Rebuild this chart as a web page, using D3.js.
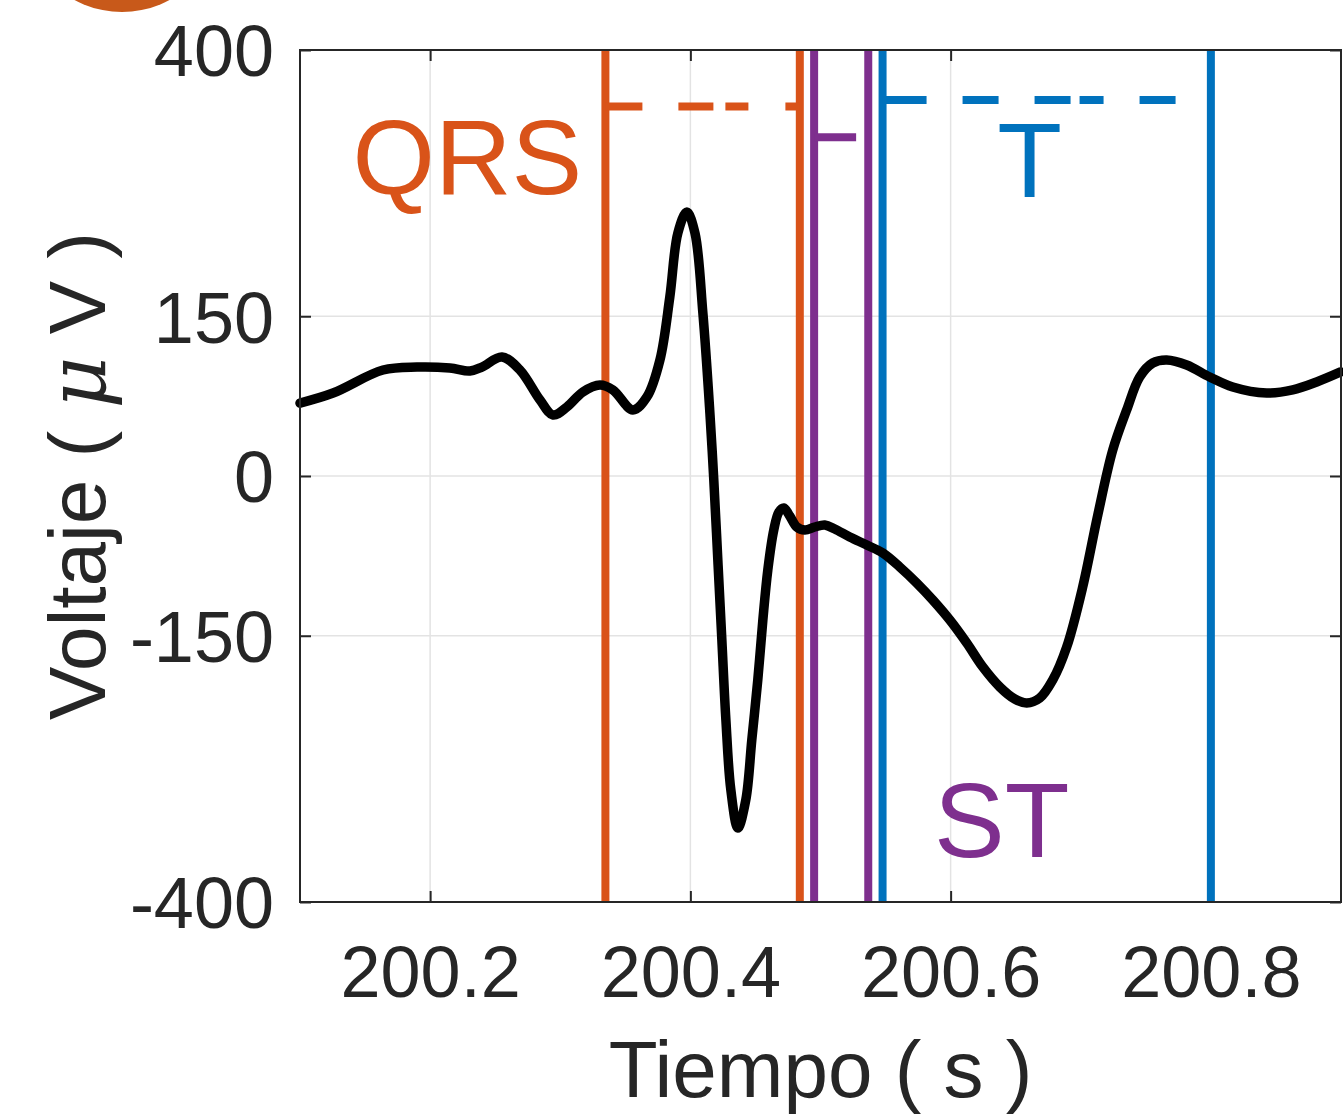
<!DOCTYPE html>
<html>
<head>
<meta charset="utf-8">
<script src="https://cdn.jsdelivr.net/npm/d3@7"></script>
<style>
  body { margin: 0; background: #fff; }
  svg { display: block; font-family: "Liberation Sans", Arial, sans-serif; }
</style>
</head>
<body>
<div id="chart"></div>
<script>
// ECG trace (time in s, voltage in µV)
const time = [
  200.1000, 200.1254, 200.1638, 200.1899, 200.2152, 200.2306, 200.2398, 200.2552,
  200.2690, 200.2844, 200.2944, 200.3051, 200.3174, 200.3305, 200.3405, 200.3558,
  200.3666, 200.3766, 200.3842, 200.3904, 200.3973, 200.4035, 200.4096, 200.4150,
  200.4180, 200.4211, 200.4242, 200.4273, 200.4311, 200.4365, 200.4426, 200.4472,
  200.4518, 200.4557, 200.4595, 200.4641, 200.4680, 200.4718, 200.4764, 200.4818,
  200.4880, 200.4956, 200.5033, 200.5110, 200.5225, 200.5356, 200.5479, 200.5609,
  200.5740, 200.5863, 200.5994, 200.6124, 200.6247, 200.6378, 200.6493, 200.6585,
  200.6685, 200.6785, 200.6892, 200.7015, 200.7131, 200.7246, 200.7353, 200.7453,
  200.7553, 200.7661, 200.7814, 200.7991, 200.8168, 200.8429, 200.8629, 200.8813,
  200.8997
];
const voltage = [
  68.5, 77.9, 99.5, 102.3, 101.4, 98.6, 102.3, 111.7,
  99.5, 71.4, 57.3, 64.8, 78.9, 85.4, 80.8, 62.0,
  74.2, 108.9, 168.1, 228.2, 247.9, 228.2, 153.1, 59.2,
  -3.8, -78.9, -154.0, -229.1, -294.8, -330.5, -304.2, -247.9,
  -191.5, -135.2, -88.3, -50.7, -33.8, -30.0, -37.6, -47.9,
  -50.7, -47.9, -46.0, -49.8, -57.3, -64.8, -72.3, -85.4,
  -100.5, -116.4, -135.2, -156.8, -179.3, -198.1, -209.4, -213.1,
  -208.5, -191.5, -160.6, -104.2, -36.6, 24.4, 62.0, 93.0,
  106.1, 108.9, 104.2, 93.0, 83.6, 77.9, 80.8, 88.3,
  97.7
];

// segment markers
const segNames = ["QRS", "ST", "T"];
const segStart = [200.3347, 200.4951, 200.5477];
const segEnd = [200.4841, 200.5367, 200.8000];
const segLevel = [347, 318, 353];
const segColors = ["#D95319", "#7E2F8E", "#0072BD"];
const segDash = ["37,36,35,12,23,37,15,200", "42,200", "44,36,36,36,36,9,24,36,36,200"];
// label anchor (time, voltage)
const labelTime = [200.2287, 200.6393, 200.6608];
const labelVolt = [265, -358, 262];

const xTicks = [200.2, 200.4, 200.6, 200.8];
const yTicks = [-400, -150, 0, 150, 400];

const width = 1343, height = 1115;
const x = d3.scaleLinear().domain([200.1, 200.9]).range([300, 1341]);
const y = d3.scaleLinear().domain([-400, 400]).range([902, 50]);

const svg = d3.select("#chart").append("svg")
  .attr("width", width).attr("height", height);

// panel badge cut off at the top
svg.append("circle").attr("cx", 122).attr("cy", -88).attr("r", 100).attr("fill", "#C8591A");

// grid
svg.append("g").selectAll("line").data(xTicks).join("line")
  .attr("x1", d => x(d)).attr("x2", d => x(d))
  .attr("y1", y(-400)).attr("y2", y(400))
  .attr("stroke", "#e3e3e3").attr("stroke-width", 1.5);
svg.append("g").selectAll("line").data(yTicks).join("line")
  .attr("x1", x(200.1)).attr("x2", x(200.9))
  .attr("y1", d => y(d)).attr("y2", d => y(d))
  .attr("stroke", "#e3e3e3").attr("stroke-width", 1.5);

// axes with inward ticks
const axisColor = "#262626";
const styleAxis = g => {
  g.select(".domain").remove();
  g.selectAll(".tick line").attr("stroke", axisColor).attr("stroke-width", 2);
  g.selectAll(".tick text").attr("fill", axisColor).style("font-size", "72px");
};
svg.append("g").attr("transform", `translate(0,${y(-400)})`)
  .call(d3.axisBottom(x).tickValues(xTicks).tickFormat(d3.format(".1f")).tickSizeInner(-11).tickPadding(60))
  .call(styleAxis)
  .call(g => g.selectAll(".tick text").attr("dy", "0").attr("y", 95));
svg.append("g").attr("transform", `translate(0,${y(400)})`)
  .call(d3.axisTop(x).tickValues(xTicks).tickFormat("").tickSizeInner(-11))
  .call(styleAxis);
svg.append("g").attr("transform", `translate(${x(200.1)},0)`)
  .call(d3.axisLeft(y).tickValues(yTicks).tickFormat(d => String(d)).tickSizeInner(-11).tickPadding(0))
  .call(styleAxis)
  .call(g => g.selectAll(".tick text").attr("x", -26).attr("dy", "0.36em"));
svg.append("g").attr("transform", `translate(${x(200.9)},0)`)
  .call(d3.axisRight(y).tickValues(yTicks).tickFormat("").tickSizeInner(-11))
  .call(styleAxis);

// segment lines
const segs = segNames.map((n, i) => ({ i, name: n }));
svg.append("g").selectAll("line").data(segs.flatMap(s => [
    { t: segStart[s.i], c: segColors[s.i] }, { t: segEnd[s.i], c: segColors[s.i] }]))
  .join("line")
  .attr("x1", d => x(d.t)).attr("x2", d => x(d.t))
  .attr("y1", y(-400)).attr("y2", y(400))
  .attr("stroke", d => d.c).attr("stroke-width", 8);

svg.append("g").selectAll("line").data(segs).join("line")
  .attr("x1", d => x(segStart[d.i])).attr("x2", d => x(segEnd[d.i]))
  .attr("y1", d => y(segLevel[d.i])).attr("y2", d => y(segLevel[d.i]))
  .attr("stroke", d => segColors[d.i]).attr("stroke-width", 8)
  .attr("stroke-dasharray", d => segDash[d.i]);

// ECG trace
const pts = time.map((t, i) => [t, voltage[i]]);
svg.append("path").datum(pts)
  .attr("fill", "none").attr("stroke", "#000").attr("stroke-width", 9.5)
  .attr("stroke-linejoin", "round").attr("stroke-linecap", "round")
  .attr("d", d3.line().x(d => x(d[0])).y(d => y(d[1])).curve(d3.curveCatmullRom.alpha(0.5)));

// segment labels
svg.append("g").selectAll("text").data(segs).join("text")
  .attr("x", d => x(labelTime[d.i])).attr("y", d => y(labelVolt[d.i]))
  .attr("text-anchor", "middle")
  .attr("fill", d => segColors[d.i])
  .style("font-size", "106px")
  .text(d => d.name);

// box
svg.append("rect")
  .attr("x", x(200.1)).attr("y", y(400))
  .attr("width", x(200.9) - x(200.1)).attr("height", y(-400) - y(400))
  .attr("fill", "none").attr("stroke", axisColor).attr("stroke-width", 2);

// axis titles
svg.append("text")
  .attr("x", (x(200.1) + x(200.9)) / 2).attr("y", 1097)
  .attr("text-anchor", "middle").attr("fill", axisColor)
  .style("font-size", "80px")
  .text("Tiempo ( s )");

const yl = svg.append("text")
  .attr("transform", `translate(105,${y(0)}) rotate(-90)`)
  .attr("text-anchor", "middle").attr("fill", axisColor)
  .style("font-size", "80px");
yl.append("tspan").text("Voltaje ( ");
yl.append("tspan").style("font-style", "italic").style("font-family", "'DejaVu Serif', serif").text("μ");
yl.append("tspan").text(" V )");
</script>
</body>
</html>
